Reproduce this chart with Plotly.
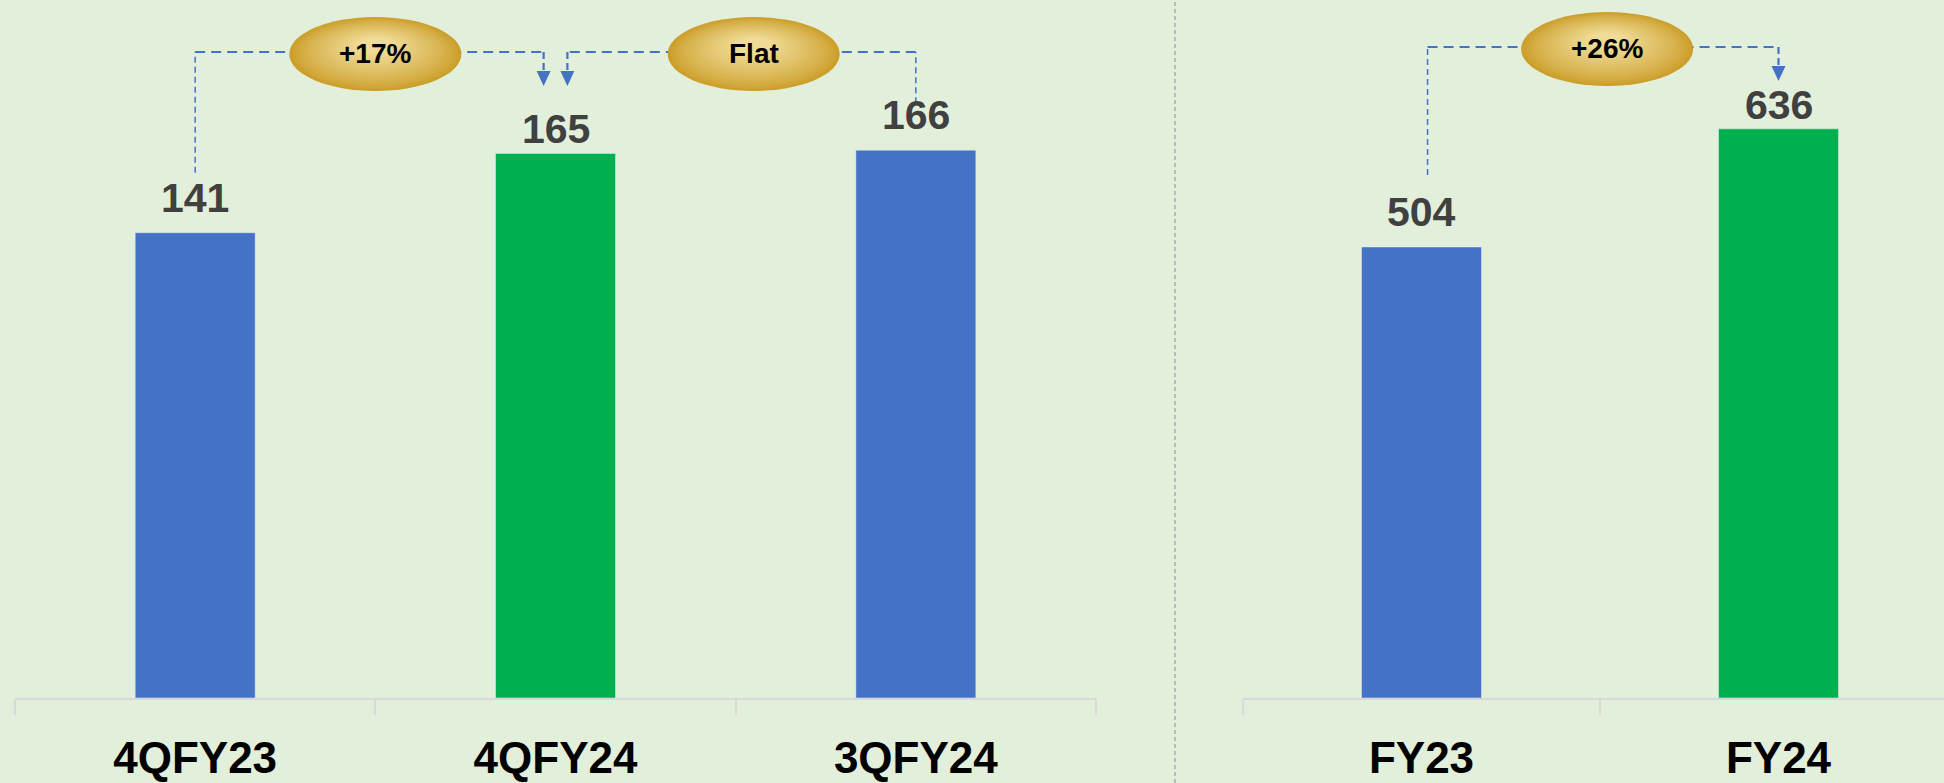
import plotly.graph_objects as go

# ---------------- data ----------------
quarter_labels = ["4QFY23", "4QFY24", "3QFY24"]
quarter_values = [141, 165, 166]
year_labels = ["FY23", "FY24"]
year_values = [504, 636]
quarter_changes = ["+17%", "Flat"]   # 4QFY23 -> 4QFY24, 3QFY24 -> 4QFY24
year_changes = ["+26%"]              # FY23 -> FY24

# ---------------- style ----------------
BLUE = "#4472C4"
GREEN = "#00B050"
quarter_colors = [BLUE, GREEN, BLUE]
year_colors = [BLUE, GREEN]
BG = "#E2EFDA"
W, H = 1944, 783
MB = 85
PH = H - MB
FONT = "Liberation Sans Narrow, Arial Narrow, Liberation Sans, Arial, sans-serif"
YL_MAX = 211.5
YR_MAX = 780.0
PPU_L = PH / YL_MAX
PPU_R = PH / YR_MAX

fig = go.Figure()
fig.add_trace(go.Bar(x=quarter_labels, y=quarter_values, marker_color=quarter_colors,
                     width=0.333, xaxis="x", yaxis="y", hoverinfo="skip"))
fig.add_trace(go.Bar(x=year_labels, y=year_values, marker_color=year_colors,
                     width=0.336, xaxis="x2", yaxis="y2", hoverinfo="skip"))

shapes = []
annotations = []

# value labels (highlighted green bars carry their label a little closer)
def add_values(values, colors, xref, yref):
    for i, v in enumerate(values):
        shift = -1 if colors[i] == GREEN else 10
        annotations.append(dict(x=i, y=v, xref=xref, yref=yref, text=str(v), showarrow=False,
                                yanchor="bottom", yshift=shift,
                                font=dict(family=FONT, size=41, color="#404040", weight="bold")))

add_values(quarter_values, quarter_colors, "x", "y")
add_values(year_values, year_colors, "x2", "y2")

# gold ellipse with pseudo radial gradient
def gold_ellipse(cx, cy, rx, ry, xref, yref, text):
    outer = (204, 158, 42)
    inner = (240, 220, 150)
    n = 24
    for k in range(n):
        t = k / (n - 1)
        s = 1 - 0.8 * t
        w = t ** 0.8
        col = tuple(int(outer[c] + (inner[c] - outer[c]) * w) for c in range(3))
        dy = (1 - s) * ry * 0.3
        shapes.append(dict(type="circle", xref=xref, yref=yref, xsizemode="pixel", ysizemode="pixel",
                           xanchor=cx, yanchor=cy, x0=-rx * s, x1=rx * s,
                           y0=-ry * s + dy, y1=ry * s + dy,
                           fillcolor="rgb(%d,%d,%d)" % col, line=dict(width=0), layer="above"))
    annotations.append(dict(x=cx, y=cy, xref=xref, yref=yref, text=text, showarrow=False,
                            yshift=1,
                            font=dict(family=FONT, size=28, color="#000000", weight="bold")))

def dashed(x0, y0, x1, y1, xref, yref, width, dash):
    shapes.append(dict(type="line", xref=xref, yref=yref, x0=x0, y0=y0, x1=x1, y1=y1,
                       line=dict(color=BLUE, width=width, dash=dash), layer="above"))

def arrow_head(x, y, xref, yref):
    shapes.append(dict(type="path", xref=xref, yref=yref, xsizemode="pixel", ysizemode="pixel",
                       xanchor=x, yanchor=y, path="M-7,15 L7,15 L0,0 Z",
                       fillcolor=BLUE, line=dict(width=0), layer="above"))

def connector(i_from, i_to, to_off, values, ymax, ppu, level_px, ell_dx, xref, yref, text,
              from_gap_px, from_off=0.0):
    level = ymax - level_px / ppu
    tip = level - 34 / ppu
    xf = i_from + from_off
    xt = i_to + to_off
    y_from_end = values[i_from] + from_gap_px / ppu
    dashed(xf, y_from_end, xf, level, xref, yref, 1.5, "6px,4px")
    dashed(xf, level, xt, level, xref, yref, 2.2, "10px,6px")
    dashed(xt, level, xt, tip + 15 / ppu, xref, yref, 2.2, "7px,4px")
    arrow_head(xt, tip, xref, yref)
    gold_ellipse((i_from + i_to) / 2 + ell_dx, level - 2 / ppu, 86, 37, xref, yref, text)

connector(0, 1, -0.033, quarter_values, YL_MAX, PPU_L, 52, 0.0, "x", "y", quarter_changes[0], 60)
connector(2, 1, 0.033, quarter_values, YL_MAX, PPU_L, 52, 0.05, "x", "y", quarter_changes[1], 47)
connector(0, 1, 0.0, year_values, YR_MAX, PPU_R, 47, 0.02, "x2", "y2", year_changes[0], 72, from_off=0.017)

# panel divider
shapes.append(dict(type="line", xref="paper", yref="paper", x0=1175 / W, x1=1175 / W,
                   y0=-MB / PH, y1=1, line=dict(color="#8C8C8C", width=1, dash="4px,3px")))

axis_common = dict(type="category", showline=True, linecolor="#D9D9D9", linewidth=2,
                   ticks="outside", tickson="boundaries", ticklen=15, tickcolor="#D9D9D9",
                   tickwidth=2, showgrid=False, zeroline=False, fixedrange=True,
                   tickfont=dict(family=FONT, size=44, color="#000000", weight="bold"),
                   ticklabelstandoff=20)

fig.update_layout(
    width=W, height=H,
    margin=dict(l=0, r=0, t=0, b=MB),
    paper_bgcolor=BG, plot_bgcolor=BG,
    showlegend=False,
    xaxis=dict(domain=[15 / W, 1096 / W], range=[-0.5, 2.5], **axis_common),
    xaxis2=dict(domain=[1243 / W, 1.0], range=[-0.5, 1.4636], anchor="y2", **axis_common),
    yaxis=dict(range=[0, YL_MAX], visible=False, fixedrange=True),
    yaxis2=dict(range=[0, YR_MAX], visible=False, anchor="x2", fixedrange=True),
    shapes=shapes,
    annotations=annotations,
)

fig.write_html("out.html", config={"displayModeBar": False})
